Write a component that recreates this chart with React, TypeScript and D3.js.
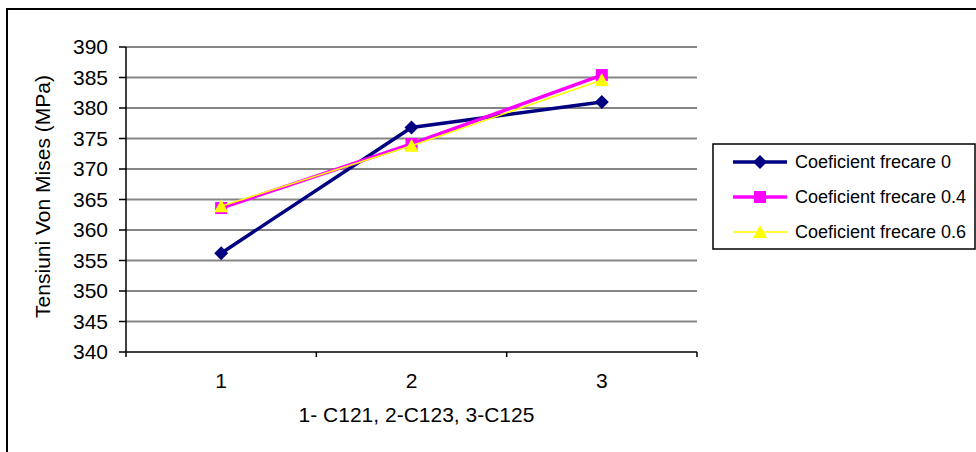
import React from "react";
import * as d3 from "d3";

const categories = ["1", "2", "3"];
const seriesNames = ["Coeficient frecare 0", "Coeficient frecare 0.4", "Coeficient frecare 0.6"];
const values0 = [356.2, 376.8, 381.0];
const values04 = [363.6, 374.1, 385.4];
const values06 = [363.9, 373.8, 384.6];
const yTicks = [340, 345, 350, 355, 360, 365, 370, 375, 380, 385, 390];
const xTitle = "1- C121, 2-C123, 3-C125";
const yTitle = "Tensiuni Von Mises (MPa)";

const W = 976, H = 452;
const plot = { left: 126, right: 697, top: 47, bottom: 352 };
const font = "'Liberation Sans', Arial, sans-serif";

const series = [
  { name: seriesNames[0], values: values0, color: "#000080", width: 3.5, marker: "diamond" },
  { name: seriesNames[1], values: values04, color: "#FF00FF", width: 3.5, marker: "square" },
  { name: seriesNames[2], values: values06, color: "#FFFF00", width: 1.5, marker: "triangle" },
];

function Marker({ type, x, y, color }: { type: string; x: number; y: number; color: string }) {
  if (type === "diamond") {
    const s = 7;
    return <path d={`M${x},${y - s}L${x + s},${y}L${x},${y + s}L${x - s},${y}Z`} fill={color} />;
  }
  if (type === "square") {
    const s = 6;
    return <rect x={x - s} y={y - s} width={2 * s} height={2 * s} fill={color} />;
  }
  const s = 7;
  return <path d={`M${x},${y - s}L${x + s},${y + s - 1}L${x - s},${y + s - 1}Z`} fill={color} />;
}

export default function App() {
  const x = d3.scaleBand<string>().domain(categories).range([plot.left, plot.right]);
  const y = d3.scaleLinear().domain([340, 390]).range([plot.bottom, plot.top]);
  const cx = (c: string) => (x(c) as number) + x.bandwidth() / 2;
  const line = d3
    .line<number>()
    .x((_, i) => cx(categories[i]))
    .y((d) => y(d));
  const boundaries = [...categories.map((c) => x(c) as number), plot.right];

  const leg = { x: 713, y: 144, w: 262, h: 105 };
  const rowY = [162, 197, 232];

  return (
    <svg width={W} height={H} style={{ position: "absolute", left: 0, top: 0, background: "#fff" }} fontFamily={font}>
      <rect x={0} y={0} width={W} height={H} fill="#fff" />
      <rect x={7} y={9} width={W + 20} height={H + 20} fill="none" stroke="#000" strokeWidth={2} />
      {yTicks.map((t) => (
        <g key={t}>
          {t !== 340 && (
            <line x1={plot.left} x2={plot.right} y1={y(t)} y2={y(t)} stroke="#858585" strokeWidth={1.8} />
          )}
          <line x1={plot.left - 7} x2={plot.left} y1={y(t)} y2={y(t)} stroke="#000" strokeWidth={1.5} />
          <text x={108} y={y(t)} dy="0.35em" textAnchor="end" fontSize={21}>
            {t}
          </text>
        </g>
      ))}
      <line x1={plot.left} x2={plot.left} y1={plot.top} y2={plot.bottom} stroke="#000" strokeWidth={1.5} />
      <line x1={plot.left} x2={plot.right} y1={plot.bottom} y2={plot.bottom} stroke="#000" strokeWidth={1.5} />
      {boundaries.map((b, i) => (
        <line key={i} x1={b} x2={b} y1={plot.bottom} y2={plot.bottom + 5} stroke="#000" strokeWidth={1.5} />
      ))}
      {categories.map((c) => (
        <text key={c} x={cx(c)} y={381} dy="0.35em" textAnchor="middle" fontSize={21}>
          {c}
        </text>
      ))}
      <text x={(plot.left + plot.right) / 2 + 5} y={415} dy="0.35em" textAnchor="middle" fontSize={21}>
        {xTitle}
      </text>
      <text
        transform={`translate(43,${(plot.top + plot.bottom) / 2 - 3}) rotate(-90)`}
        dy="0.35em"
        textAnchor="middle"
        fontSize={21}
      >
        {yTitle}
      </text>
      {series.map((s) => (
        <g key={s.name}>
          <path d={line(s.values) || ""} fill="none" stroke={s.color} strokeWidth={s.width} />
          {s.values.map((v, i) => (
            <Marker key={i} type={s.marker} x={cx(categories[i])} y={y(v)} color={s.color} />
          ))}
        </g>
      ))}
      <rect x={leg.x} y={leg.y} width={leg.w} height={leg.h} fill="#fff" stroke="#000" strokeWidth={1.5} />
      {series.map((s, i) => (
        <g key={s.name}>
          <line x1={733} x2={787} y1={rowY[i]} y2={rowY[i]} stroke={s.color} strokeWidth={s.width} />
          <Marker type={s.marker} x={760} y={rowY[i]} color={s.color} />
          <text x={795} y={rowY[i]} dy="0.35em" fontSize={18}>
            {s.name}
          </text>
        </g>
      ))}
    </svg>
  );
}
